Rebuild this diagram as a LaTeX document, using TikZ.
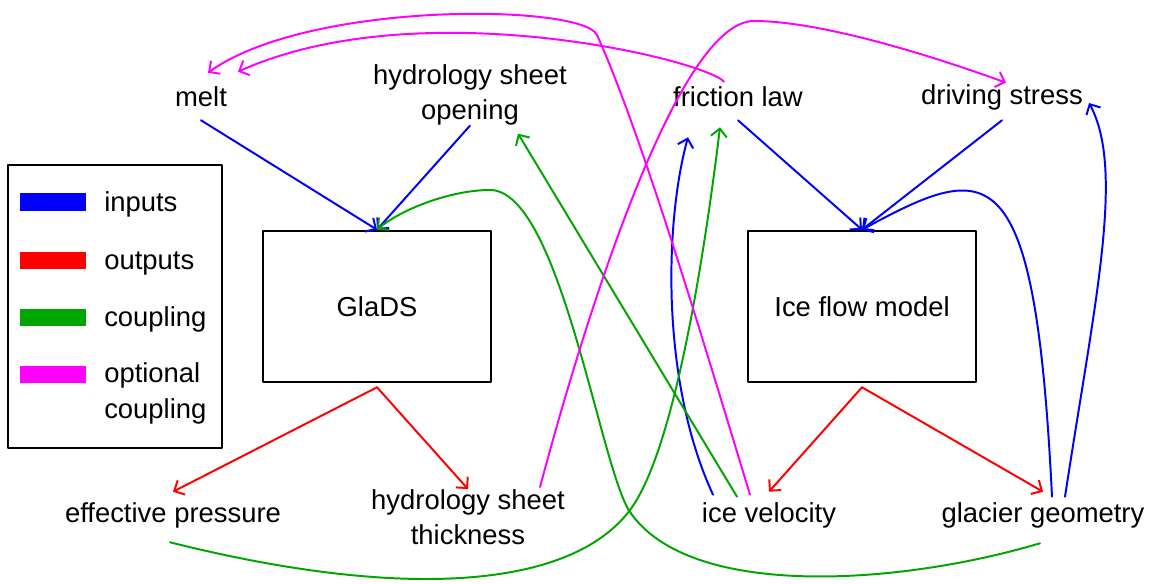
\documentclass[tikz,border=0pt]{standalone}
\usepackage{fontspec}
\setmainfont{Liberation Sans}
\usetikzlibrary{arrows.meta,calc,positioning}
\definecolor{inpc}{RGB}{0,0,255}
\definecolor{outc}{RGB}{255,0,0}
\definecolor{cplc}{RGB}{0,166,0}
\definecolor{optc}{RGB}{255,0,255}
\begin{document}
\begin{tikzpicture}[x=0.025cm,y=-0.025cm,line join=round,line cap=round,>={Straight Barb[length=2mm,width=4mm]},font=\fontsize{19.5}{25}\selectfont]
                \tikzset{t/.style={inner sep=0pt,align=center,minimum height=1.15cm},
                    box/.style={draw,line width=1.8pt,inner sep=0pt,minimum width=5.7cm,minimum height=3.775cm},
                    inp/.style={draw=inpc,line width=1.4pt},outp/.style={draw=outc,line width=1.4pt},
                    cpl/.style={draw=cplc,line width=1.4pt},opt/.style={draw=optc,line width=1.4pt}}
                \useasboundingbox(0,0)rectangle(1150,584);

                \path(201,97)node[t](melt){melt}(470,95)node[t](hso){hydrology sheet\\opening}
                (738,97)node[t](fric){friction law}(1002,97)node[t](drive){driving stress};
                \path(377,306.5)node[box](glads){GlaDS}(862,306.5)node[box](ice){Ice flow model};
                \path(173,515)node[t](effp){effective pressure}(468,517)node[t](hst){hydrology sheet\\thickness}
                (769,515)node[t](vel){ice velocity}(1043,515)node[t](geom){glacier geometry};

                % legend
                \draw[line width=1.8pt](8,165)rectangle(222,448);
                \foreach \c/\y/\b/\l in {inpc/202/211/inputs,outc/260/269/outputs,cplc/317/326/coupling,optc/374/418/{optional\\coupling}}{
                    \fill[\c](20,\y-8.5)rectangle(86,\y+8.5);
                    \node[anchor=base west,inner sep=0pt,align=left](lg\c)at(104,\b){\l};}

                \foreach \x/\y in {melt/glads,hso/glads,fric/ice,drive/ice}{
                    \draw[->,inp](\x.south)--(\y.north);	}
                \foreach \x/\y in {glads/effp,glads/hst,ice/vel,ice/geom}{
                    \draw[->,outp]([yshift=-1mm]\x.south)--(\y.north);	}

                \draw[->,inp]($(geom.north)+(9,5)$)..controls(1035,150)and(990,160)..(ice.north);
                \draw[->,inp]($(geom.north)+(22,5)$)..controls(1095,300)and(1125,170)..($(drive.east)+(6,6)$);
                \draw[->,inp]($(vel.north)+(-56,3)$)..controls(660,380)and(665,220)..($(fric.south)+(-50,17)$);

                \draw[->,cpl]($(effp.south)+(-3,4)$)..controls(400,600)and(570,590)..(630,510)
                    ..controls(675,450)and(705,250)..($(fric.south)+(-18,7)$);
                \draw[->,cpl]($(geom.south)+(-3,5)$)..controls(900,585)and(690,600)..(630,512)
                    ..controls(600,468)and(560,190)..(490,190)..controls(450,190)and(400,210)..(glads.north);
                \draw[->,cpl]($(vel.north)+(-32,5)$)--($(hso.south)+(48,8)$);

                \draw[->,opt]($(vel.north)+(-19,3)$)..controls(700,330)and(640,130)..(597,35)
                    ..controls(583,4)and(310,0)..($(melt.north)+(7,-1)$);
                \draw[->,opt]($(fric.north)+(-14,8)$)..controls(705,60)and(420,-10)..($(melt.north)+(37,-2)$);
                \draw[->,opt]($(hst.north)+(72,-2)$)..controls(590,300)and(680,21)..(754,21)
                    ..controls(820,21)and(930,55)..($(drive.north)+(4,9)$);
            \end{tikzpicture}
\end{document}
